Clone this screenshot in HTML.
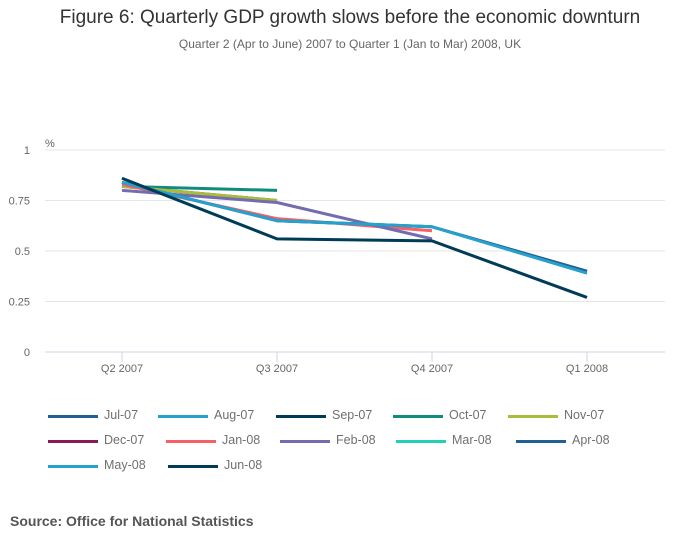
<!DOCTYPE html>
<html><head><meta charset="utf-8"><style>
body{margin:0;width:700px;height:549px;background:#fff;font-family:"Liberation Sans",sans-serif;position:relative;overflow:hidden}
.t{position:absolute;left:0;width:700px;text-align:center}
.leg{position:absolute;height:14px;font-size:12.5px;color:#707070;white-space:nowrap}
.leg i{position:absolute;left:0;top:6px;width:50px;height:3px}
.leg span{position:absolute;left:56px;top:-1px}
</style></head><body>
<div class="t" style="top:7px;font-size:19px;color:#333">Figure 6: Quarterly GDP growth slows before the economic downturn</div>
<div class="t" style="top:37px;font-size:12px;color:#666">Quarter 2 (Apr to June) 2007 to Quarter 1 (Jan to Mar) 2008, UK</div>
<svg id="c" width="700" height="400" style="position:absolute;left:0;top:0"></svg>
<div id="legend"></div>
<div style="position:absolute;left:10px;top:513px;font-size:14px;font-weight:bold;color:#555">Source: Office for National Statistics</div>
<script>
const categories=["Q2 2007","Q3 2007","Q4 2007","Q1 2008"];
const yTicks=[0,0.25,0.5,0.75,1];
const yTickLabels=["0","0.25","0.5","0.75","1"];
const seriesNames=["Jul-07","Aug-07","Sep-07","Oct-07","Nov-07","Dec-07","Jan-08","Feb-08","Mar-08","Apr-08","May-08","Jun-08"];
const jul07=[0.84,null,null,null];
const aug07=[0.84,null,null,null];
const sep07=[0.84,null,null,null];
const oct07=[0.82,0.80,null,null];
const nov07=[0.82,0.75,null,null];
const dec07=[0.82,0.75,null,null];
const jan08=[0.83,0.66,0.60,null];
const feb08=[0.80,0.74,0.56,null];
const mar08=[0.84,0.65,0.62,null];
const apr08=[0.84,0.65,0.62,0.40];
const may08=[0.84,0.65,0.62,0.39];
const jun08=[0.86,0.56,0.55,0.27];
const seriesValues=[jul07,aug07,sep07,oct07,nov07,dec07,jan08,feb08,mar08,apr08,may08,jun08];
const colors=["#206095","#27a0cc","#003c57","#118c7b","#a8bd3a","#871a5b","#f66068","#746cb1","#22d0b6","#206095","#27a0cc","#003c57"];
const drawOrder=[0,1,2,3,5,4,6,7,8,9,10,11];
const legendLeft=[48,158,276,393,508,48,166,280,396,516,48,168];
const NS="http://www.w3.org/2000/svg";
const svg=document.getElementById('c');
const x=i=>122+i*155, y=v=>352-v*202;
function mk(t,a){const e=document.createElementNS(NS,t);for(const k in a)e.setAttribute(k,a[k]);svg.appendChild(e);return e;}
yTicks.forEach((v,i)=>{
 const g=mk('line',{x1:45,x2:665,y1:y(v),y2:y(v),stroke:v===0?'#ccd6eb':'#e6e6e6','stroke-width':1});
 
 
 const t=mk('text',{x:30,y:y(v)+4,'font-size':11,fill:'#666','text-anchor':'end'});t.textContent=yTickLabels[i];
 
 
});
const u=mk('text',{x:45,y:147,'font-size':11,fill:'#666'});u.textContent='%';


categories.forEach((c,i)=>{
 const tk=mk('line',{x1:x(i),x2:x(i),y1:352,y2:362,stroke:'#ccd6eb'});
 
 
 const t=mk('text',{x:x(i),y:372,'font-size':11,fill:'#666','text-anchor':'middle'});t.textContent=c;
 
 
});
drawOrder.forEach(k=>{
 const s=seriesValues[k];
 const pts=[];s.forEach((v,i)=>{if(v!==null)pts.push(x(i)+','+y(v));});
 const p=mk('polyline',{points:pts.join(' '),fill:'none',stroke:colors[k],'stroke-width':3,'stroke-linejoin':'round'});
 
 
});
const L=document.getElementById('legend');
seriesNames.forEach((n,k)=>{
 const d=document.createElement('div');d.className='leg';
 d.style.left=legendLeft[k]+'px';d.style.top=(409+Math.floor(k/5)*25)+'px';
 d.innerHTML='<i style="background:'+colors[k]+'"></i><span>'+n+'</span>';
 
 
 L.appendChild(d);
});
</script>
</body></html>
